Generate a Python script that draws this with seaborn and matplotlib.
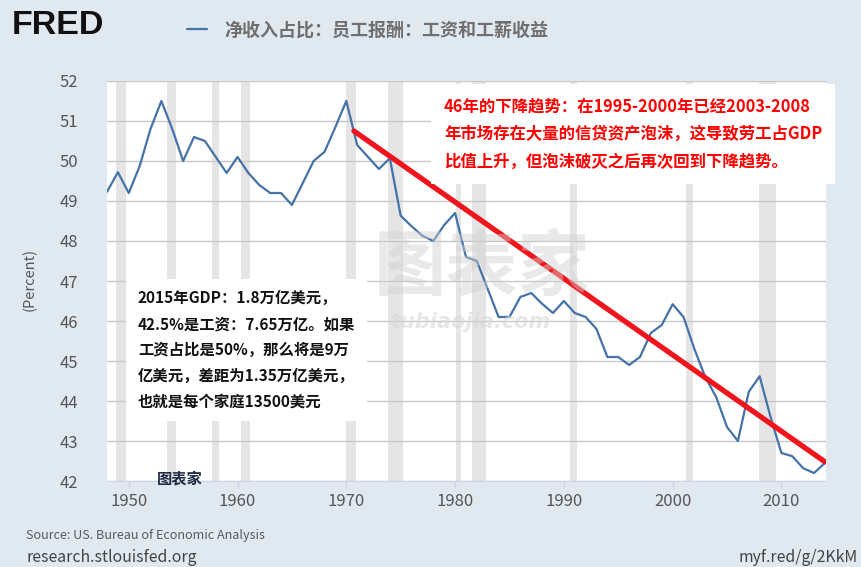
import matplotlib
matplotlib.use("Agg")
import matplotlib.pyplot as plt
import seaborn as sns
import pandas as pd

# annual share of net income: compensation of employees, wages and salaries (percent)
years = list(range(1948, 2015))
share = [49.23, 49.72, 49.2, 49.87, 50.8, 51.5, 50.8, 50.0, 50.6, 50.5,
         50.1, 49.7, 50.1, 49.7, 49.4, 49.2, 49.2, 48.9, 49.45, 50.0,
         50.23, 50.85, 51.5, 50.4, 50.1, 49.8, 50.07, 48.63, 48.37, 48.13,
         48.0, 48.4, 48.7, 47.6, 47.5, 46.8, 46.1, 46.1, 46.6, 46.7,
         46.43, 46.2, 46.5, 46.2, 46.1, 45.8, 45.1, 45.1, 44.9, 45.1,
         45.7, 45.9, 46.42, 46.1, 45.3, 44.6, 44.1, 43.35, 43.0, 44.23,
         44.62, 43.6, 42.7, 42.62, 42.32, 42.2, 42.45]

# hand-drawn red trend line
trend_x = [1970.7, 2014.0]
trend_y = [50.75, 42.48]

# NBER recessions
rec_start = [1948.87, 1953.5, 1957.62, 1960.29, 1969.96, 1973.87, 1980.04,
             1981.54, 1990.54, 2001.21, 2007.96]
rec_end = [1949.79, 1954.37, 1958.29, 1961.12, 1970.87, 1975.21, 1980.54,
           1982.87, 1991.21, 2001.87, 2009.46]

yticks = [42, 43, 44, 45, 46, 47, 48, 49, 50, 51, 52]
xticks = [1950, 1960, 1970, 1980, 1990, 2000, 2010]

series_name = "净收入占比：员工报酬：工资和工薪收益"
note_red = ("46年的下降趋势：在1995-2000年已经2003-2008\n"
            "年市场存在大量的信贷资产泡沫，这导致劳工占GDP\n"
            "比值上升，但泡沫破灭之后再次回到下降趋势。")
note_black = ("2015年GDP：1.8万亿美元，\n"
              "42.5%是工资：7.65万亿。如果\n"
              "工资占比是50%，那么将是9万\n"
              "亿美元，差距为1.35万亿美元，\n"
              "也就是每个家庭13500美元")

df = pd.DataFrame({"year": years, "share": share})
trend = pd.DataFrame({"year": trend_x, "share": trend_y})

sns.set_style("white")
plt.rcParams["font.family"] = ["Liberation Sans Narrow", "Noto Sans CJK SC", "DejaVu Sans"]
CJK = ["Noto Sans CJK SC", "DejaVu Sans"]

W, H = 861, 567
def fx(x):
    return x / W
def fy(y):
    return 1 - y / H

fig = plt.figure(figsize=(8.61, 5.67), dpi=100, facecolor="#e1e9f0")
ax = fig.add_axes([fx(107), fy(481), fx(826) - fx(107), fy(81) - fy(481)])
ax.set_facecolor("white")

for s, e in zip(rec_start, rec_end):
    ax.axvspan(s, e, color="#e5e5e5", lw=0, zorder=0)

ax.set_yticks(yticks)
ax.set_xticks(xticks)
ax.yaxis.grid(True, color="#c8c8c8", lw=1.0, zorder=1)
ax.xaxis.grid(False)
ax.set_axisbelow(True)

sns.lineplot(data=df, x="year", y="share", ax=ax, color="#4572a7",
             lw=1.6, zorder=3, label=series_name, legend=False)
sns.lineplot(data=trend, x="year", y="share", ax=ax, color="#f0141c",
             lw=3.8, zorder=4, legend=False)

ax.set_xlim(1948, 2014.1)
ax.set_ylim(42, 52)
ax.set_xlabel("")
ax.set_ylabel("")
for side in ["top", "right", "left"]:
    ax.spines[side].set_visible(False)
ax.spines["bottom"].set_color("#ccd6eb")
ax.tick_params(axis="y", length=0, pad=21, labelsize=12, labelcolor="#555555")
ax.tick_params(axis="x", length=5, width=1, color="#ccd6eb", pad=4,
               labelsize=12, labelcolor="#555555", bottom=True)

# header
fig.text(fx(12), fy(25), "FRED", family="Liberation Sans", fontsize=24.5,
         fontweight="bold", color="#111111", va="center", ha="left")
handles, labels = ax.get_legend_handles_labels()
leg = fig.legend(handles[:1], labels[:1], loc="center left",
                 bbox_to_anchor=(fx(171), fy(30)), frameon=False,
                 handlelength=1.1, handletextpad=0.95,
                 prop={"family": CJK, "size": 13, "weight": "bold"})
for t in leg.get_texts():
    t.set_color("#6f6f6f")

fig.text(fx(30), fy(279), "(Percent)", rotation=90, fontsize=10.5,
         color="#555555", ha="center", va="center")

# watermark
fig.text(fx(482), fy(268), "图表家", family=CJK, fontsize=52, fontweight="bold",
         color="#cfcfcf", alpha=0.45, ha="center", va="center", zorder=2)
fig.text(fx(470), fy(322), "tubiaojia.com", family="DejaVu Sans", fontsize=15,
         fontweight="bold", style="italic", color="#d8d8d8", alpha=0.6,
         ha="center", va="center")
fig.text(fx(180), fy(478), "图表家", family=CJK, fontsize=11, fontweight="bold",
         color="#1d2b44", ha="center", va="center")

# annotation boxes
fig.text(fx(444), fy(134), note_red, family=CJK, fontsize=11.8, fontweight="bold",
         color="#ff0000", ha="left", va="center", linespacing=1.68,
         bbox=dict(boxstyle="square,pad=0.8", fc="white", ec="none"))
fig.text(fx(138), fy(350), note_black, family=CJK, fontsize=11.05, fontweight="bold",
         color="#111111", ha="left", va="center", linespacing=1.76,
         bbox=dict(boxstyle="square,pad=0.75", fc="white", ec="none"))

# footer
fig.text(fx(26), fy(535), "Source: US. Bureau of Economic Analysis", fontsize=9.1,
         color="#5a5a5a", ha="left", va="center")
fig.text(fx(26), fy(557), "research.stlouisfed.org", fontsize=11.4,
         color="#444444", ha="left", va="center")
fig.text(fx(858), fy(557), "myf.red/g/2KkM", fontsize=11.4,
         color="#444444", ha="right", va="center")

fig.savefig("out.png", dpi=100, facecolor=fig.get_facecolor())
